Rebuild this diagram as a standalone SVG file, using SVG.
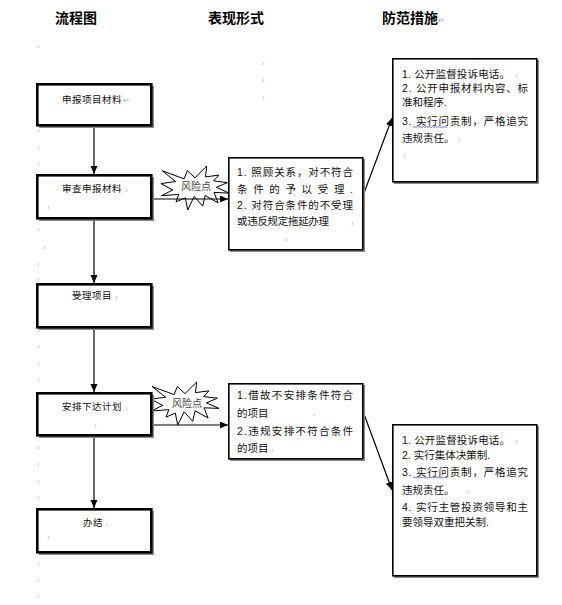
<svg xmlns="http://www.w3.org/2000/svg" width="562" height="605" viewBox="0 0 562 605">
<style>
  .title{font-family:"Noto Sans CJK SC","Liberation Sans",sans-serif;font-weight:700;font-size:14px;fill:#000}
  .t{font-family:"Liberation Sans","Noto Sans CJK SC",sans-serif;font-size:10.5px;fill:#111}
  .ft{font-family:"Liberation Sans","Noto Sans CJK SC",sans-serif;font-size:9.5px;letter-spacing:0.5px;fill:#111}
  .risk{font-family:"Liberation Sans","Noto Sans CJK SC",sans-serif;font-size:10px;fill:#444}
  .pm{font-family:"Liberation Sans",sans-serif;font-size:6px;fill:#aaa}
  .flow{fill:#fff;stroke:#000;stroke-width:2.6}
  .box{fill:#fff;stroke:#000;stroke-width:1.6}
  .shadow{fill:#8a8a8a}
  .star{fill:#fff;stroke:#000;stroke-width:1}
  .conn{stroke:#000;stroke-width:1.2;fill:none;marker-end:url(#arr)}
  .wavy{stroke:#3b5bd6;stroke-width:0.8;fill:none}
</style>
<defs>
  <marker id="arr" markerUnits="userSpaceOnUse" markerWidth="9" markerHeight="8" refX="8" refY="3.5" orient="auto">
    <path d="M0,0 L8,3.5 L0,7 z" fill="#000"/>
  </marker>
</defs>
<rect x="0" y="0" width="562" height="605" fill="#fff"/>

<!-- titles -->
<text class="title" x="76" y="23" text-anchor="middle">流程图</text>
<text class="title" x="236" y="23" text-anchor="middle">表现形式</text>
<text class="title" x="410" y="23" text-anchor="middle">防范措施</text>
<text class="pm" x="438" y="23" style="font-size:8px">↵</text>

<!-- paragraph marks -->
<g id="marks">
  <text class="pm" x="36" y="48">.ı</text>
  <text class="pm" x="36" y="132">.ı</text>
  <text class="pm" x="36" y="149">.ı</text>
  <text class="pm" x="36" y="165">.ı</text>
  <text class="pm" x="36" y="231">.ı</text>
  <text class="pm" x="42" y="249">.ı</text>
  <text class="pm" x="36" y="266">.ı</text>
  <text class="pm" x="36" y="281">.ı</text>
  <text class="pm" x="36" y="332">.ı</text>
  <text class="pm" x="36" y="348">.ı</text>
  <text class="pm" x="36" y="365">.ı</text>
  <text class="pm" x="36" y="381">.ı</text>
  <text class="pm" x="36" y="449">.ı</text>
  <text class="pm" x="36" y="466">.ı</text>
  <text class="pm" x="36" y="483">.ı</text>
  <text class="pm" x="36" y="499">.ı</text>
  <text class="pm" x="36" y="565">.ı</text>
  <text class="pm" x="36" y="582">.ı</text>
  <text class="pm" x="36" y="598">.ı</text>
  <text class="pm" x="261" y="65">.ı</text>
  <text class="pm" x="261" y="82">.ı</text>
  <text class="pm" x="261" y="99">.ı</text>
</g>

<!-- stars -->
<g id="risk1">
  <polygon class="star" points="195,177.8 206.7,166 205.5,176.9 218.9,175.1 213.7,180.9 227.4,182.6 216.4,187.3 229,193.1 214,192.4 218.1,202.9 205.1,195.4 202.7,206.2 194.2,196.4 187.7,210 185.3,197.8 176,201.9 178.8,194.4 161.4,195.7 172.7,190 161,183.6 175.6,181.5 162.2,170.7 184.1,178.9 187.3,170.7"/>
  <text class="risk" x="196" y="189.5" text-anchor="middle">风险点</text>
</g>
<g id="risk2">
  <polygon class="star" points="185,393.6 196.7,382 195.5,392.6 208.9,390.9 203.7,396.6 217.4,398.2 206.4,402.9 219,408.4 204,407.8 208.1,418 195.1,410.8 192.7,421.3 184.2,411.8 177.7,425 175.3,413.1 166,417.1 168.8,409.7 151.4,411 162.7,405.4 151,399.2 165.6,397.2 152.2,386.6 174.1,394.6 177.3,386.6"/>
  <text class="risk" x="187" y="406.5" text-anchor="middle">风险点</text>
</g>

<!-- connectors -->
<g id="connectors">
  <line class="conn" x1="94" y1="127" x2="94" y2="174"/>
  <line class="conn" x1="94" y1="220" x2="94" y2="283"/>
  <line class="conn" x1="94" y1="329" x2="94" y2="392"/>
  <line class="conn" x1="94" y1="437" x2="94" y2="508"/>
  <line class="conn" x1="153" y1="199" x2="228" y2="199"/>
  <line class="conn" x1="153" y1="425" x2="228" y2="425"/>
  <line class="conn" x1="364" y1="193" x2="392" y2="118"/>
  <line class="conn" x1="364" y1="414" x2="392" y2="490"/>
</g>

<!-- flow boxes -->
<g id="n1">
  <rect class="shadow" x="39" y="86" width="115" height="42"/>
  <rect class="flow" x="37.3" y="84.3" width="114" height="41"/>
  <text class="ft" x="62" y="103">申报项目材料</text>
  <text class="pm" x="123" y="103" style="font-size:8px">↵</text>
</g>
<g id="n2">
  <rect class="shadow" x="39" y="177" width="115" height="44"/>
  <rect class="flow" x="37.3" y="175.3" width="114" height="43"/>
  <text class="ft" x="62" y="192">审查申报材料</text>
  <text class="pm" x="124" y="192">.ı</text>
  <text class="pm" x="46" y="209">.ı</text>
</g>
<g id="n3">
  <rect class="shadow" x="39" y="286" width="115" height="44"/>
  <rect class="flow" x="37.3" y="284.3" width="114" height="43"/>
  <text class="ft" x="72" y="299">受理项目</text>
  <text class="pm" x="114" y="299">.ı</text>
</g>
<g id="n4">
  <rect class="shadow" x="39" y="395" width="115" height="43"/>
  <rect class="flow" x="37.3" y="393.3" width="114" height="42"/>
  <text class="ft" x="62" y="410">安排下达计划</text>
  <text class="pm" x="124" y="410">.ı</text>
  <text class="pm" x="93" y="427">.ı</text>
</g>
<g id="n5">
  <rect class="shadow" x="39" y="511" width="115" height="44"/>
  <rect class="flow" x="37.3" y="509.3" width="114" height="43"/>
  <text class="ft" x="83" y="526">办结</text>
  <text class="pm" x="104" y="526">.ı</text>
  <text class="pm" x="46" y="539">.ı</text>
</g>

<!-- middle boxes -->
<g id="a1">
  <rect class="shadow" x="230" y="159" width="135" height="93"/>
  <rect class="box" x="228.8" y="157.8" width="134" height="92"/>
  <text class="t" x="237" y="176" textLength="116" lengthAdjust="spacing">1. 照顾关系，对不符合</text>
  <text class="t" x="237" y="193" textLength="116" lengthAdjust="spacing">条件的予以受理.</text>
  <text class="t" x="237" y="209" textLength="116" lengthAdjust="spacing">2. 对符合条件的不受理</text>
  <text class="t" x="237" y="225" textLength="92" lengthAdjust="spacing">或违反规定拖延办理</text>
  <text class="pm" x="350" y="225">.ı</text>
  <text class="pm" x="284" y="241">.ı</text>
</g>
<g id="a2">
  <rect class="shadow" x="230" y="385" width="135" height="76"/>
  <rect class="box" x="228.8" y="383.8" width="134" height="75"/>
  <text class="t" x="237" y="399" textLength="116" lengthAdjust="spacing">1.借故不安排条件符合</text>
  <text class="t" x="237" y="417">的项目</text>
  <text class="pm" x="312" y="416">.ı</text>
  <text class="t" x="237" y="435" textLength="116" lengthAdjust="spacing">2.违规安排不符合条件</text>
  <text class="t" x="237" y="452">的项目</text>
  <text class="pm" x="270" y="452">.ı</text>
</g>

<!-- right boxes -->
<g id="p1">
  <rect class="shadow" x="394" y="60" width="145" height="124"/>
  <rect class="box" x="392.8" y="58.8" width="144" height="123"/>
  <text class="t" x="402" y="77.5" textLength="108" lengthAdjust="spacing">1. 公开监督投诉电话。</text>
  <text class="pm" x="514" y="77">.ı</text>
  <text class="t" x="402" y="92" textLength="126" lengthAdjust="spacing">2. 公开申报材料内容、标</text>
  <text class="t" x="402" y="106">准和程序.</text>
  <text class="t" x="402" y="125" textLength="126" lengthAdjust="spacing">3. 实行问责制，严格追究</text>
  <path class="wavy" d="M413,127.5 l1.5,-1 l1.5,1 l1.5,-1 l1.5,1 l1.5,-1 l1.5,1 l1.5,-1 l1.5,1 l1.5,-1 l1.5,1 l1.5,-1 l1.5,1 l1.5,-1 l1.5,1 l1.5,-1 l1.5,1 l1.5,-1 l1.5,1 l1.5,-1 l1.5,1 l1.5,-1 l1.5,1 l1.5,-1"/>
  <text class="t" x="402" y="142">违规责任。</text>
  <text class="pm" x="457" y="142">.ı</text>
  <text class="pm" x="402" y="158">.ı</text>
</g>
<g id="p2">
  <rect class="shadow" x="394" y="426" width="145" height="152"/>
  <rect class="box" x="392.8" y="424.8" width="144" height="151"/>
  <text class="t" x="402" y="443.5" textLength="108" lengthAdjust="spacing">1. 公开监督投诉电话。</text>
  <text class="pm" x="514" y="443">.ı</text>
  <text class="t" x="402" y="458.5">2. 实行集体决策制.</text>
  <text class="t" x="402" y="475.5" textLength="126" lengthAdjust="spacing">3. 实行问责制，严格追究</text>
  <path class="wavy" d="M413,478 l1.5,-1 l1.5,1 l1.5,-1 l1.5,1 l1.5,-1 l1.5,1 l1.5,-1 l1.5,1 l1.5,-1 l1.5,1 l1.5,-1 l1.5,1 l1.5,-1 l1.5,1 l1.5,-1 l1.5,1 l1.5,-1 l1.5,1 l1.5,-1 l1.5,1 l1.5,-1 l1.5,1 l1.5,-1"/>
  <text class="t" x="402" y="493.5">违规责任。</text>
  <text class="pm" x="465" y="493">.ı</text>
  <text class="t" x="402" y="510.5" textLength="126" lengthAdjust="spacing">4. 实行主管投资领导和主</text>
  <text class="t" x="402" y="525.5">要领导双重把关制.</text>
</g>
</svg>
